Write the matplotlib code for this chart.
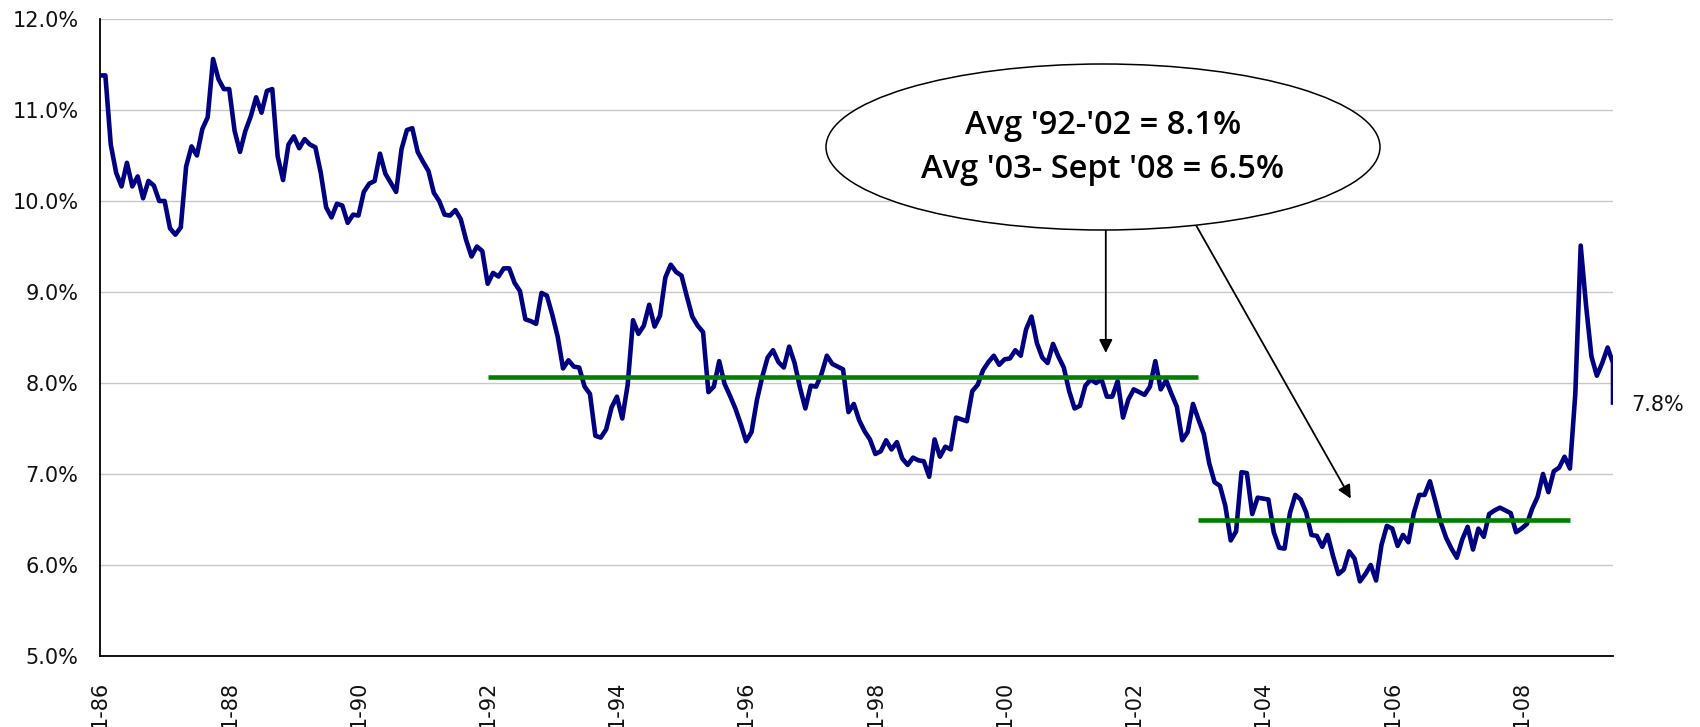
import numpy as np
import matplotlib
matplotlib.use("Agg")
import matplotlib.pyplot as plt
from matplotlib.patches import Ellipse

# Monthly yield (%), Jan 1986 - Jun 2009
rates = [
    11.38, 11.38, 10.62, 10.31, 10.16, 10.42, 10.16, 10.27, 10.03, 10.22, 10.17, 10.00,  # 1986
    10.00, 9.70, 9.63, 9.71, 10.38, 10.60, 10.50, 10.79, 10.92, 11.56, 11.34, 11.23,     # 1987
    11.23, 10.77, 10.54, 10.77, 10.93, 11.14, 10.97, 11.21, 11.23, 10.49, 10.23, 10.62,  # 1988
    10.71, 10.58, 10.68, 10.62, 10.59, 10.31, 9.93, 9.82, 9.97, 9.95, 9.76, 9.85,        # 1989
    9.84, 10.10, 10.19, 10.22, 10.52, 10.30, 10.20, 10.10, 10.57, 10.78, 10.80, 10.54,   # 1990
    10.43, 10.33, 10.09, 10.00, 9.85, 9.84, 9.90, 9.80, 9.57, 9.39, 9.50, 9.45,          # 1991
    9.09, 9.21, 9.17, 9.26, 9.26, 9.10, 9.01, 8.70, 8.68, 8.65, 8.99, 8.96,              # 1992
    8.75, 8.51, 8.16, 8.25, 8.18, 8.17, 7.96, 7.88, 7.42, 7.40, 7.49, 7.73,              # 1993
    7.85, 7.61, 7.98, 8.69, 8.54, 8.63, 8.86, 8.62, 8.74, 9.16, 9.30, 9.22,              # 1994
    9.18, 8.95, 8.73, 8.63, 8.56, 7.90, 7.96, 8.24, 7.99, 7.86, 7.72, 7.55,              # 1995
    7.36, 7.46, 7.81, 8.07, 8.28, 8.36, 8.23, 8.17, 8.40, 8.22, 7.95, 7.72,              # 1996
    7.97, 7.96, 8.10, 8.30, 8.21, 8.18, 8.15, 7.68, 7.77, 7.59, 7.47, 7.38,              # 1997
    7.22, 7.25, 7.37, 7.27, 7.35, 7.17, 7.10, 7.18, 7.15, 7.14, 6.97, 7.38,              # 1998
    7.19, 7.30, 7.27, 7.62, 7.60, 7.58, 7.91, 7.98, 8.14, 8.23, 8.30, 8.20,              # 1999
    8.26, 8.27, 8.36, 8.30, 8.59, 8.73, 8.44, 8.28, 8.22, 8.43, 8.29, 8.17,              # 2000
    7.91, 7.72, 7.75, 7.97, 8.04, 8.00, 8.04, 7.85, 7.85, 8.02, 7.62, 7.82,              # 2001
    7.93, 7.90, 7.87, 7.96, 8.24, 7.93, 8.03, 7.88, 7.74, 7.37, 7.46, 7.77,              # 2002
    7.60, 7.44, 7.12, 6.91, 6.87, 6.65, 6.27, 6.37, 7.02, 7.01, 6.56, 6.74,              # 2003
    6.73, 6.72, 6.36, 6.19, 6.18, 6.57, 6.77, 6.72, 6.58, 6.33, 6.32, 6.20,              # 2004
    6.33, 6.10, 5.90, 5.95, 6.15, 6.07, 5.82, 5.90, 6.00, 5.83, 6.22, 6.43,              # 2005
    6.40, 6.21, 6.33, 6.25, 6.57, 6.77, 6.77, 6.92, 6.70, 6.47, 6.30, 6.18,              # 2006
    6.08, 6.28, 6.42, 6.17, 6.40, 6.31, 6.56, 6.60, 6.63, 6.60, 6.57, 6.36,              # 2007
    6.40, 6.45, 6.62, 6.75, 7.00, 6.80, 7.03, 7.07, 7.19, 7.06, 7.88, 9.51,              # 2008
    8.85, 8.29, 8.08, 8.22, 8.39, 8.22,                                                  # 2009
]
latest = 7.76  # most recent reading, same month as the last monthly value

tick_labels = ["1-86", "1-88", "1-90", "1-92", "1-94", "1-96",
               "1-98", "1-00", "1-02", "1-04", "1-06", "1-08"]
y_ticks = [5, 6, 7, 8, 9, 10, 11, 12]

# Period averages: (first month index, last month index, value)
avg_92_02 = (72, 204, 8.07)
avg_03_08 = (204, 273, 6.5)

plt.rcParams["font.family"] = ["DejaVu Sans"]

fig = plt.figure(figsize=(17, 7.27), dpi=100)
W, H = 1700, 727
ax = fig.add_axes([100 / W, 1 - 656 / H, 1513 / W, 637 / H])

x = np.arange(len(rates))
x_all = np.append(x, x[-1])
y_all = np.append(rates, latest)

ax.plot(x_all, y_all, color="#000080", lw=3.3, solid_joinstyle="round",
        solid_capstyle="butt", zorder=3)

for start, end, val in (avg_92_02, avg_03_08):
    ax.plot([start, end], [val, val], color="#008000", lw=3.3,
            solid_capstyle="butt", zorder=4)

ax.set_xlim(0, len(rates) - 1)
ax.set_ylim(y_ticks[0], y_ticks[-1])
ax.set_yticks(y_ticks)
ax.set_yticklabels([f"{v:.1f}%" for v in y_ticks])
ax.set_xticks(np.arange(0, len(rates), 24)[:len(tick_labels)])
ax.set_xticklabels(tick_labels, rotation=90)
ax.tick_params(axis="y", length=0, pad=15.5, labelsize=15, colors="#111111")
ax.tick_params(axis="x", length=0, pad=18, labelsize=15, colors="#111111")

ax.grid(axis="y", color="#c8c8c8", lw=1.0, zorder=0)
ax.set_axisbelow(True)
for side in ("top", "right"):
    ax.spines[side].set_visible(False)
for side in ("left", "bottom"):
    ax.spines[side].set_color("black")
    ax.spines[side].set_linewidth(1.3)

# Last value label
ax.annotate(f"{latest:.1f}%", xy=(x_all[-1], latest), xytext=(13, 0),
            textcoords="offset points", ha="left", va="center",
            fontsize=15, color="#111111")

# Callout with period averages
ell = Ellipse((1103 / W, 1 - 147 / H), 554 / W, 166 / H,
              transform=fig.transFigure, facecolor="white",
              edgecolor="black", lw=1.1, zorder=5)
fig.add_artist(ell)
fig.text(1103 / W, 1 - 126 / H,
         f"Avg '92-'02 = {avg_92_02[2]:.1f}%",
         ha="center", va="center", fontsize=23.5, fontweight="semibold",
         family=["Open Sans", "DejaVu Sans"], zorder=6)
fig.text(1103 / W, 1 - 170 / H,
         f"Avg '03- Sept '08 = {avg_03_08[2]:.1f}%",
         ha="center", va="center", fontsize=23.5, fontweight="semibold",
         family=["Open Sans", "DejaVu Sans"], zorder=6)

arrow_kw = dict(arrowstyle="-|>", color="black", lw=1.3, mutation_scale=20,
                shrinkA=0, shrinkB=0)
ax.annotate("", xy=(186.8, 8.33), xytext=(186.8, 9.68),
            arrowprops=arrow_kw, annotation_clip=False)
ax.annotate("", xy=(232.3, 6.73), xytext=(203.5, 9.74),
            arrowprops=arrow_kw, annotation_clip=False)

fig.savefig("out.png", dpi=100)
